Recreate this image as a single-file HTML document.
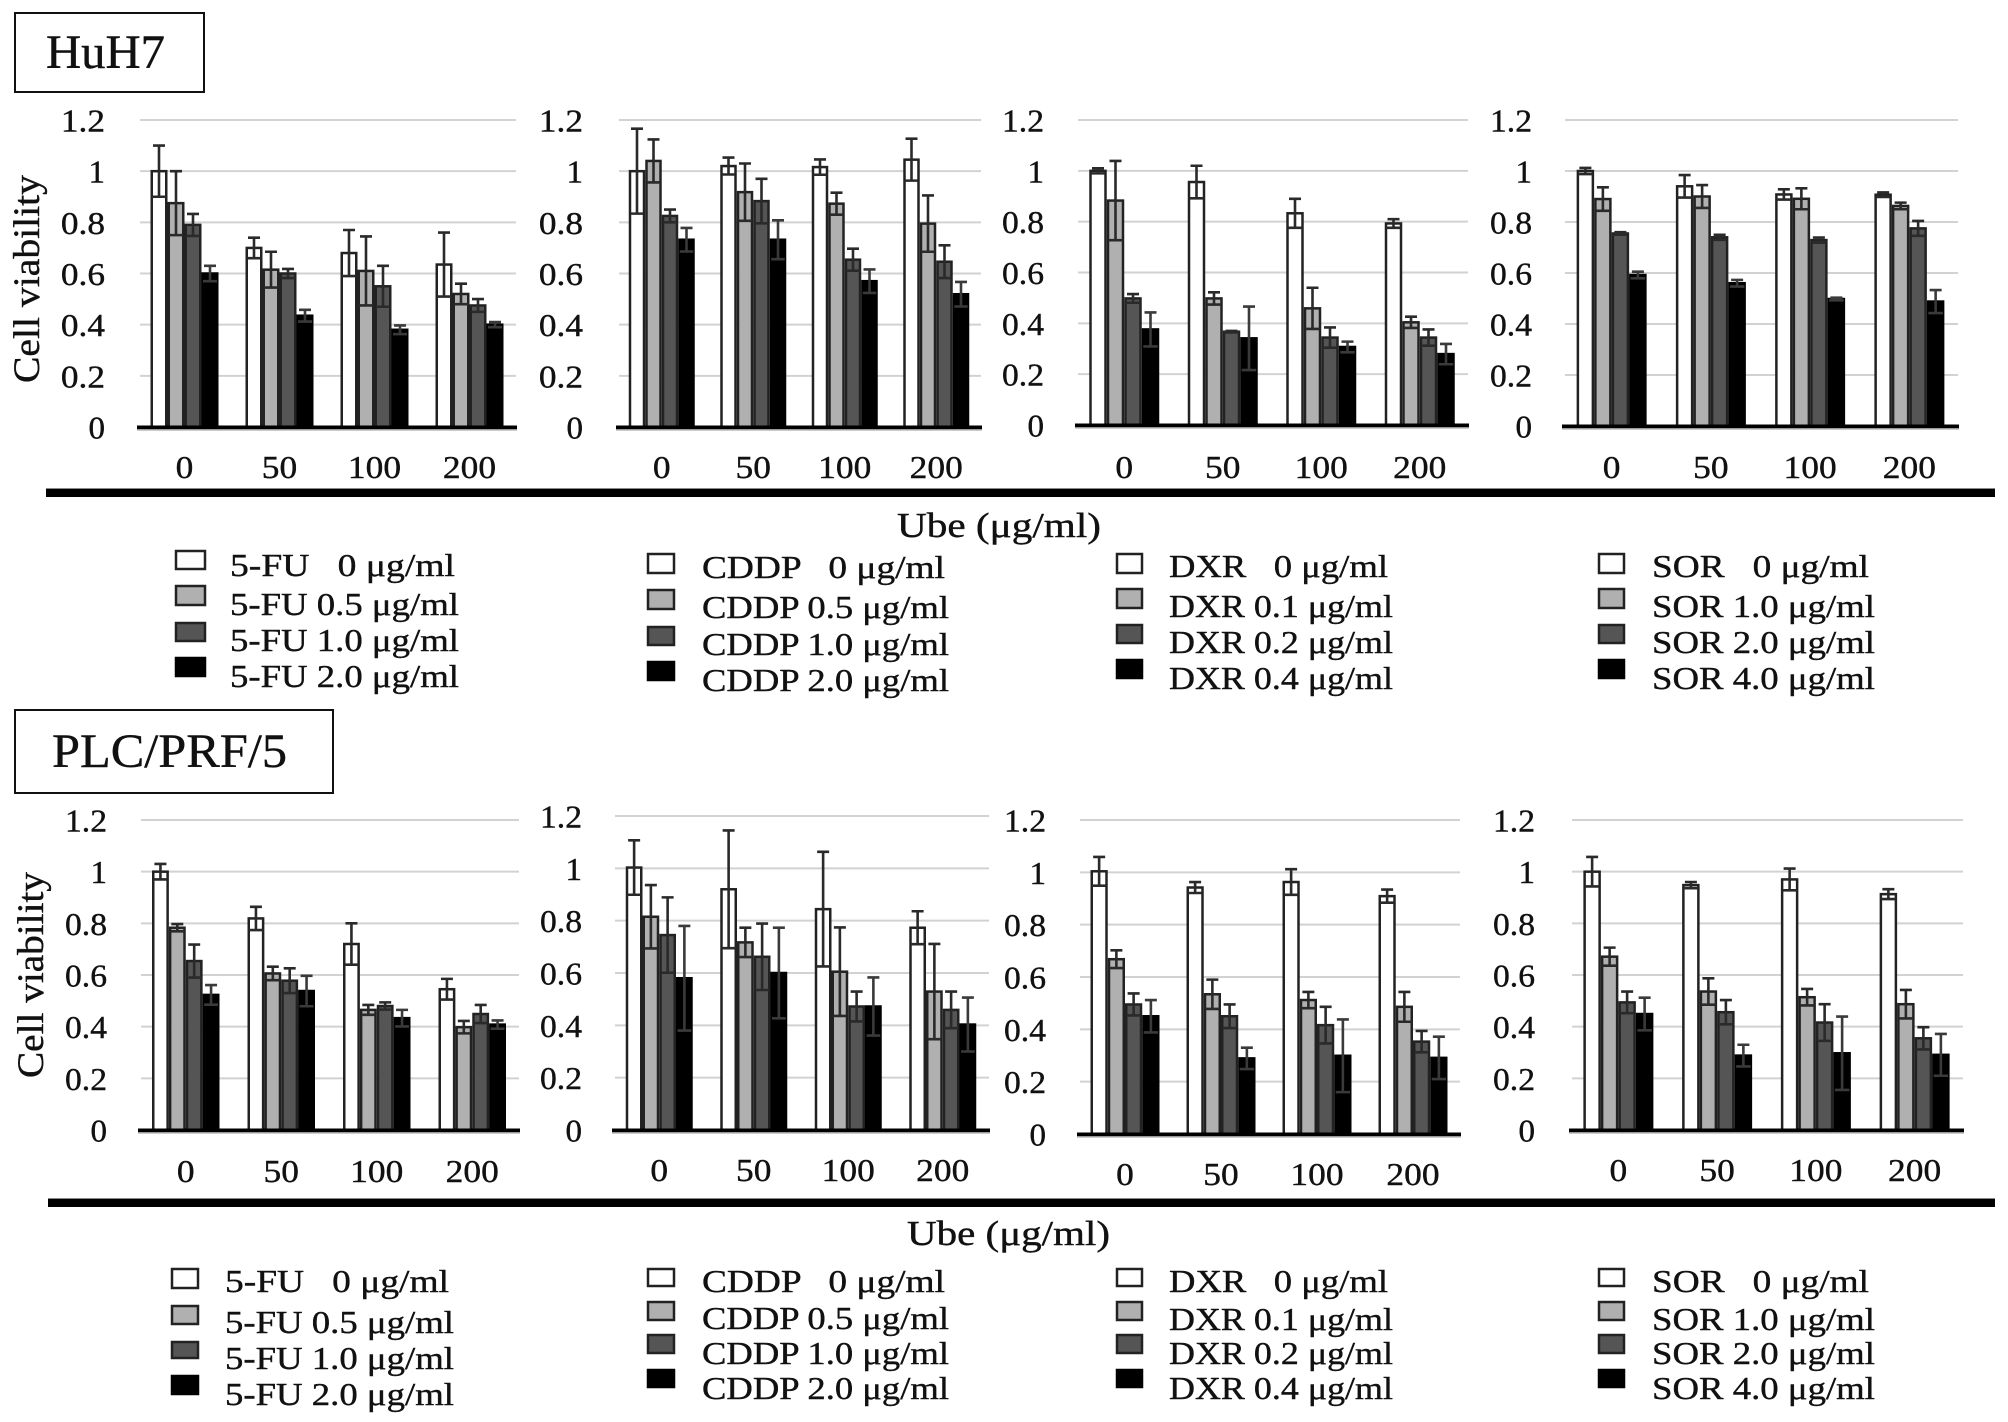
<!DOCTYPE html>
<html lang="en">
<head>
<meta charset="utf-8">
<title>Cell viability of HuH7 and PLC/PRF/5 cells</title>
<style>
  html, body { margin: 0; padding: 0; background: #fff; }
  #figure { display: block; width: 2008px; height: 1422px; background: #fff; }
  text { font-family: "Liberation Serif", "Noto Serif CJK SC", serif; fill: #111; stroke: #111; stroke-width: 0.4px; }
  .tick { font-size: 32px; }
  .legend-text { font-size: 32px; white-space: pre; }
  .cat { font-size: 32px; }
  .ylab { font-size: 37px; }
  .ube { font-size: 35px; white-space: pre; }
  .cell { font-size: 48px; }
</style>
</head>
<body>
<svg id="figure" xmlns="http://www.w3.org/2000/svg" width="2008" height="1422" viewBox="0 0 2008 1422">

  <g>
    <rect x="15" y="13" width="189" height="79" fill="#fff" stroke="#111" stroke-width="2"/>
    <text class="cell" x="46" y="68" textLength="119" lengthAdjust="spacingAndGlyphs">HuH7</text>
  </g>
  <g>
    <rect x="15" y="710" width="318" height="83" fill="#fff" stroke="#111" stroke-width="2"/>
    <text class="cell" x="52" y="767" textLength="235" lengthAdjust="spacingAndGlyphs">PLC/PRF/5</text>
  </g>

  <text class="ylab" transform="translate(39,383) rotate(-90)" textLength="208" lengthAdjust="spacingAndGlyphs">Cell viability</text>
  <text class="ylab" transform="translate(43,1078) rotate(-90)" textLength="206" lengthAdjust="spacingAndGlyphs">Cell viability</text>

  <g id="charts"></g>

  <rect x="46" y="488" width="1949" height="1.5" fill="#888"/>
  <rect x="46" y="489" width="1949" height="8" fill="#000"/>
  <rect x="48" y="1198" width="1947" height="1.5" fill="#888"/>
  <rect x="48" y="1199" width="1947" height="8" fill="#000"/>

  <text class="ube" x="897" y="537" textLength="204" lengthAdjust="spacingAndGlyphs">Ube (μg/ml)</text>
  <text class="ube" x="907" y="1245" textLength="203" lengthAdjust="spacingAndGlyphs">Ube (μg/ml)</text>

  <!-- HuH7 legends -->
  <g>
    <rect x="176" y="551" width="29" height="18" fill="#fff" stroke="#222" stroke-width="2.5"/>
    <rect x="176" y="586" width="29" height="19" fill="#b0b0b0" stroke="#222" stroke-width="2.5"/>
    <rect x="176" y="623" width="29" height="18" fill="#555" stroke="#222" stroke-width="2.5"/>
    <rect x="176" y="658" width="29" height="18" fill="#000" stroke="#000" stroke-width="2.5"/>
    <text class="legend-text" x="230" y="576" textLength="225" lengthAdjust="spacingAndGlyphs">5-FU   0 μg/ml</text>
    <text class="legend-text" x="230" y="615" textLength="229" lengthAdjust="spacingAndGlyphs">5-FU 0.5 μg/ml</text>
    <text class="legend-text" x="230" y="651" textLength="229" lengthAdjust="spacingAndGlyphs">5-FU 1.0 μg/ml</text>
    <text class="legend-text" x="230" y="687" textLength="229" lengthAdjust="spacingAndGlyphs">5-FU 2.0 μg/ml</text>
  </g>
  <g>
    <rect x="648" y="554" width="26" height="19" fill="#fff" stroke="#222" stroke-width="2.5"/>
    <rect x="648" y="590" width="26" height="19" fill="#b0b0b0" stroke="#222" stroke-width="2.5"/>
    <rect x="648" y="627" width="26" height="18" fill="#555" stroke="#222" stroke-width="2.5"/>
    <rect x="648" y="662" width="26" height="18" fill="#000" stroke="#000" stroke-width="2.5"/>
    <text class="legend-text" x="702" y="578" textLength="243" lengthAdjust="spacingAndGlyphs">CDDP   0 μg/ml</text>
    <text class="legend-text" x="702" y="618" textLength="247" lengthAdjust="spacingAndGlyphs">CDDP 0.5 μg/ml</text>
    <text class="legend-text" x="702" y="655" textLength="247" lengthAdjust="spacingAndGlyphs">CDDP 1.0 μg/ml</text>
    <text class="legend-text" x="702" y="691" textLength="247" lengthAdjust="spacingAndGlyphs">CDDP 2.0 μg/ml</text>
  </g>
  <g>
    <rect x="1117" y="554" width="25" height="19" fill="#fff" stroke="#222" stroke-width="2.5"/>
    <rect x="1117" y="589" width="25" height="19" fill="#b0b0b0" stroke="#222" stroke-width="2.5"/>
    <rect x="1117" y="625" width="25" height="18" fill="#555" stroke="#222" stroke-width="2.5"/>
    <rect x="1117" y="660" width="25" height="18" fill="#000" stroke="#000" stroke-width="2.5"/>
    <text class="legend-text" x="1169" y="577" textLength="219" lengthAdjust="spacingAndGlyphs">DXR   0 μg/ml</text>
    <text class="legend-text" x="1169" y="617" textLength="224" lengthAdjust="spacingAndGlyphs">DXR 0.1 μg/ml</text>
    <text class="legend-text" x="1169" y="653" textLength="224" lengthAdjust="spacingAndGlyphs">DXR 0.2 μg/ml</text>
    <text class="legend-text" x="1169" y="689" textLength="224" lengthAdjust="spacingAndGlyphs">DXR 0.4 μg/ml</text>
  </g>
  <g>
    <rect x="1599" y="554" width="25" height="19" fill="#fff" stroke="#222" stroke-width="2.5"/>
    <rect x="1599" y="589" width="25" height="19" fill="#b0b0b0" stroke="#222" stroke-width="2.5"/>
    <rect x="1599" y="625" width="25" height="18" fill="#555" stroke="#222" stroke-width="2.5"/>
    <rect x="1599" y="660" width="25" height="18" fill="#000" stroke="#000" stroke-width="2.5"/>
    <text class="legend-text" x="1652" y="577" textLength="217" lengthAdjust="spacingAndGlyphs">SOR   0 μg/ml</text>
    <text class="legend-text" x="1652" y="617" textLength="223" lengthAdjust="spacingAndGlyphs">SOR 1.0 μg/ml</text>
    <text class="legend-text" x="1652" y="653" textLength="223" lengthAdjust="spacingAndGlyphs">SOR 2.0 μg/ml</text>
    <text class="legend-text" x="1652" y="689" textLength="223" lengthAdjust="spacingAndGlyphs">SOR 4.0 μg/ml</text>
  </g>

  <!-- PLC/PRF/5 legends -->
  <g>
    <rect x="172" y="1269" width="26" height="19" fill="#fff" stroke="#222" stroke-width="2.5"/>
    <rect x="172" y="1306" width="26" height="18" fill="#b0b0b0" stroke="#222" stroke-width="2.5"/>
    <rect x="172" y="1342" width="26" height="16" fill="#555" stroke="#222" stroke-width="2.5"/>
    <rect x="172" y="1376" width="26" height="18" fill="#000" stroke="#000" stroke-width="2.5"/>
    <text class="legend-text" x="225" y="1292" textLength="224" lengthAdjust="spacingAndGlyphs">5-FU   0 μg/ml</text>
    <text class="legend-text" x="225" y="1333" textLength="229" lengthAdjust="spacingAndGlyphs">5-FU 0.5 μg/ml</text>
    <text class="legend-text" x="225" y="1369" textLength="229" lengthAdjust="spacingAndGlyphs">5-FU 1.0 μg/ml</text>
    <text class="legend-text" x="225" y="1405" textLength="229" lengthAdjust="spacingAndGlyphs">5-FU 2.0 μg/ml</text>
  </g>
  <g>
    <rect x="648" y="1269" width="26" height="17" fill="#fff" stroke="#222" stroke-width="2.5"/>
    <rect x="648" y="1302" width="26" height="18" fill="#b0b0b0" stroke="#222" stroke-width="2.5"/>
    <rect x="648" y="1335" width="26" height="18" fill="#555" stroke="#222" stroke-width="2.5"/>
    <rect x="648" y="1370" width="26" height="17" fill="#000" stroke="#000" stroke-width="2.5"/>
    <text class="legend-text" x="702" y="1292" textLength="243" lengthAdjust="spacingAndGlyphs">CDDP   0 μg/ml</text>
    <text class="legend-text" x="702" y="1329" textLength="247" lengthAdjust="spacingAndGlyphs">CDDP 0.5 μg/ml</text>
    <text class="legend-text" x="702" y="1364" textLength="247" lengthAdjust="spacingAndGlyphs">CDDP 1.0 μg/ml</text>
    <text class="legend-text" x="702" y="1399" textLength="247" lengthAdjust="spacingAndGlyphs">CDDP 2.0 μg/ml</text>
  </g>
  <g>
    <rect x="1117" y="1269" width="25" height="17" fill="#fff" stroke="#222" stroke-width="2.5"/>
    <rect x="1117" y="1302" width="25" height="18" fill="#b0b0b0" stroke="#222" stroke-width="2.5"/>
    <rect x="1117" y="1335" width="25" height="18" fill="#555" stroke="#222" stroke-width="2.5"/>
    <rect x="1117" y="1370" width="25" height="17" fill="#000" stroke="#000" stroke-width="2.5"/>
    <text class="legend-text" x="1169" y="1292" textLength="219" lengthAdjust="spacingAndGlyphs">DXR   0 μg/ml</text>
    <text class="legend-text" x="1169" y="1330" textLength="224" lengthAdjust="spacingAndGlyphs">DXR 0.1 μg/ml</text>
    <text class="legend-text" x="1169" y="1364" textLength="224" lengthAdjust="spacingAndGlyphs">DXR 0.2 μg/ml</text>
    <text class="legend-text" x="1169" y="1399" textLength="224" lengthAdjust="spacingAndGlyphs">DXR 0.4 μg/ml</text>
  </g>
  <g>
    <rect x="1599" y="1269" width="25" height="17" fill="#fff" stroke="#222" stroke-width="2.5"/>
    <rect x="1599" y="1302" width="25" height="18" fill="#b0b0b0" stroke="#222" stroke-width="2.5"/>
    <rect x="1599" y="1335" width="25" height="18" fill="#555" stroke="#222" stroke-width="2.5"/>
    <rect x="1599" y="1370" width="25" height="17" fill="#000" stroke="#000" stroke-width="2.5"/>
    <text class="legend-text" x="1652" y="1292" textLength="217" lengthAdjust="spacingAndGlyphs">SOR   0 μg/ml</text>
    <text class="legend-text" x="1652" y="1330" textLength="223" lengthAdjust="spacingAndGlyphs">SOR 1.0 μg/ml</text>
    <text class="legend-text" x="1652" y="1364" textLength="223" lengthAdjust="spacingAndGlyphs">SOR 2.0 μg/ml</text>
    <text class="legend-text" x="1652" y="1399" textLength="223" lengthAdjust="spacingAndGlyphs">SOR 4.0 μg/ml</text>
  </g>
</svg>

<script>
// ---- shared axis data ----
var categories = ["0", "50", "100", "200"];
var tickValues = [0, 0.2, 0.4, 0.6, 0.8, 1, 1.2];
var tickLabels = ["0", "0.2", "0.4", "0.6", "0.8", "1", "1.2"];
var yMax = 1.2;

// ---- values: one row per Ube dose, one column per drug concentration ----
var huh7FuMeans = [[1.0, 0.875, 0.79, 0.6], [0.70, 0.615, 0.6, 0.435], [0.68, 0.61, 0.55, 0.38], [0.635, 0.52, 0.475, 0.40]];
var huh7FuErrors = [[0.10, 0.125, 0.043, 0.03], [0.04, 0.07, 0.018, 0.023], [0.09, 0.135, 0.08, 0.017], [0.125, 0.04, 0.025, 0.01]];

var huh7CddpMeans = [[1.0, 1.04, 0.825, 0.732], [1.02, 0.918, 0.883, 0.732], [1.016, 0.873, 0.654, 0.57], [1.045, 0.795, 0.646, 0.519]];
var huh7CddpErrors = [[0.166, 0.084, 0.025, 0.046], [0.033, 0.112, 0.087, 0.076], [0.03, 0.043, 0.043, 0.046], [0.082, 0.11, 0.064, 0.048]];

var huh7DxrMeans = [[1.0, 0.883, 0.498, 0.376], [0.956, 0.498, 0.367, 0.341], [0.833, 0.459, 0.344, 0.307], [0.793, 0.404, 0.344, 0.279]];
var huh7DxrErrors = [[0.01, 0.156, 0.017, 0.067], [0.064, 0.024, 0.003, 0.125], [0.057, 0.081, 0.04, 0.021], [0.017, 0.022, 0.032, 0.04]];

var huh7SorMeans = [[1.0, 0.89, 0.755, 0.592], [0.94, 0.90, 0.74, 0.56], [0.908, 0.891, 0.729, 0.498], [0.907, 0.863, 0.775, 0.488]];
var huh7SorErrors = [[0.012, 0.046, 0.005, 0.013], [0.044, 0.045, 0.01, 0.013], [0.02, 0.041, 0.01, 0.005], [0.009, 0.013, 0.029, 0.045]];

var plcFuMeans = [[1.0, 0.783, 0.654, 0.523], [0.819, 0.606, 0.578, 0.538], [0.72, 0.465, 0.48, 0.433], [0.545, 0.398, 0.449, 0.408]];
var plcFuErrors = [[0.03, 0.014, 0.064, 0.038], [0.045, 0.026, 0.048, 0.059], [0.08, 0.019, 0.014, 0.032], [0.04, 0.024, 0.035, 0.016]];

var plcCddpMeans = [[1.003, 0.815, 0.745, 0.58], [0.92, 0.717, 0.662, 0.60], [0.844, 0.605, 0.472, 0.472], [0.773, 0.529, 0.459, 0.403]];
var plcCddpErrors = [[0.104, 0.121, 0.144, 0.20], [0.225, 0.056, 0.127, 0.173], [0.219, 0.169, 0.057, 0.111], [0.063, 0.182, 0.07, 0.103]];

var plcDxrMeans = [[1.004, 0.668, 0.495, 0.45], [0.942, 0.534, 0.45, 0.289], [0.963, 0.512, 0.416, 0.299], [0.909, 0.486, 0.353, 0.291]];
var plcDxrErrors = [[0.055, 0.034, 0.042, 0.062], [0.021, 0.056, 0.045, 0.041], [0.049, 0.031, 0.07, 0.139], [0.025, 0.057, 0.041, 0.081]];

var plcSorMeans = [[1.0, 0.671, 0.494, 0.449], [0.948, 0.536, 0.456, 0.288], [0.97, 0.514, 0.416, 0.297], [0.913, 0.487, 0.355, 0.291]];
var plcSorErrors = [[0.057, 0.035, 0.042, 0.063], [0.012, 0.051, 0.047, 0.042], [0.042, 0.032, 0.071, 0.142], [0.019, 0.055, 0.043, 0.081]];

var seriesFills = ["#ffffff", "#b0b0b0", "#555555", "#000000"];
var seriesNames = ["conc-0", "conc-1", "conc-2", "conc-3"];

// ---- layout of each small multiple (geometry only) ----
var panels = [
  { name: "huh7-5fu",  means: huh7FuMeans,  errors: huh7FuErrors,  left: 137,  right: 517,  top: 120, bottom: 427,  groupWidth: 68,   tickRight: 105,  tickCharWidth: 14.7, catBaseline: 478 },
  { name: "huh7-cddp", means: huh7CddpMeans, errors: huh7CddpErrors, left: 616,  right: 982,  top: 120, bottom: 427,  groupWidth: 66,   tickRight: 583,  tickCharWidth: 14.7, catBaseline: 478 },
  { name: "huh7-dxr",  means: huh7DxrMeans, errors: huh7DxrErrors, left: 1075, right: 1469, top: 120, bottom: 425,  groupWidth: 70,   tickRight: 1044, tickCharWidth: 14,   catBaseline: 478 },
  { name: "huh7-sor",  means: huh7SorMeans, errors: huh7SorErrors, left: 1562, right: 1959, top: 120, bottom: 426,  groupWidth: 70,   tickRight: 1532, tickCharWidth: 14,   catBaseline: 478 },
  { name: "plc-5fu",   means: plcFuMeans,   errors: plcFuErrors,   left: 138,  right: 520,  top: 820, bottom: 1130, groupWidth: 67.5, tickRight: 107,  tickCharWidth: 14,   catBaseline: 1182 },
  { name: "plc-cddp",  means: plcCddpMeans, errors: plcCddpErrors, left: 612,  right: 990,  top: 816, bottom: 1130, groupWidth: 67,   tickRight: 582,  tickCharWidth: 14,   catBaseline: 1181 },
  { name: "plc-dxr",   means: plcDxrMeans,  errors: plcDxrErrors,  left: 1077, right: 1461, top: 820, bottom: 1134, groupWidth: 69,   tickRight: 1046, tickCharWidth: 14,   catBaseline: 1185 },
  { name: "plc-sor",   means: plcSorMeans,  errors: plcSorErrors,  left: 1569, right: 1964, top: 820, bottom: 1130, groupWidth: 70,   tickRight: 1535, tickCharWidth: 14,   catBaseline: 1181 }
];

var SVG_NS = "http://www.w3.org/2000/svg";
var chartsRoot = document.getElementById("charts");

function make(tag, parent, props) {
  var node = document.createElementNS(SVG_NS, tag);
  for (var key in props) { node.setAttribute(key, props[key]); }
  parent.appendChild(node);
  return node;
}

function drawPanel(panel) {
  var yScale = function (v) { return panel.bottom - (v / yMax) * (panel.bottom - panel.top); };
  var band = (panel.right - panel.left) / categories.length;
  var bandCenter = function (i) { return panel.left + band * (i + 0.5); };
  var pitch = panel.groupWidth / seriesFills.length;
  var barCenter = function (g, s) { return bandCenter(g) + (s - (seriesFills.length - 1) / 2) * pitch; };

  var g = make("g", chartsRoot, {});
  
  

  tickValues.forEach(function (tv, i) {
    if (tv > 0) {
      var grid = make("line", g, { x1: panel.left + 3, x2: panel.right - 1, y1: yScale(tv), y2: yScale(tv), stroke: "#d2d2d2", "stroke-width": 2 });
      
      
    }
    var tickText = tickLabels[i];
    var label = make("text", g, {
      class: "tick", x: panel.tickRight, y: yScale(tv) + 11.5, "text-anchor": "end",
      textLength: tickText.length === 1 ? 16.5 : panel.tickCharWidth * 3, lengthAdjust: "spacingAndGlyphs"
    });
    label.textContent = tickText;
    
    
  });

  panel.means.forEach(function (row, gi) {
    row.forEach(function (value, si) {
      var cx = barCenter(gi, si);
      var w = pitch - 2.5;
      var yTop = yScale(value);
      var isBlack = si === 3;
      var bar = make("rect", g, {
        x: cx - w / 2, y: yTop, width: w, height: panel.bottom - yTop,
        fill: seriesFills[si], stroke: isBlack ? "#000" : "#222", "stroke-width": 2.5
      });
      
      
    });
  });

  panel.means.forEach(function (row, gi) {
    row.forEach(function (value, si) {
      var cx = barCenter(gi, si);
      var err = panel.errors[gi][si];
      var hi = yScale(value + err);
      var lo = yScale(value - err);
      var color = si === 3 ? "#3a3a3a" : "#2a2a2a";
      var path = make("path", g, {
        d: "M" + cx + " " + hi + "V" + lo +
           "M" + (cx - 6) + " " + hi + "H" + (cx + 6) +
           "M" + (cx - (pitch - 3) / 2) + " " + lo + "H" + (cx + (pitch - 3) / 2),
        fill: "none", stroke: color, "stroke-width": 2.6
      });
      
      
    });
  });

  var axis = make("rect", g, { x: panel.left, y: panel.bottom - 1.5, width: panel.right - panel.left, height: 3.5, fill: "#000" });
  
  
  var axisShadow = make("rect", g, { x: panel.left, y: panel.bottom + 2, width: panel.right - panel.left, height: 1.5, fill: "#999" });
  
  

  categories.forEach(function (cat, i) {
    var label = make("text", g, {
      class: "cat", x: bandCenter(i), y: panel.catBaseline, "text-anchor": "middle",
      textLength: cat.length * 17.7, lengthAdjust: "spacingAndGlyphs"
    });
    label.textContent = cat;
    
    
  });
}

panels.forEach(drawPanel);
</script>
</body>
</html>
